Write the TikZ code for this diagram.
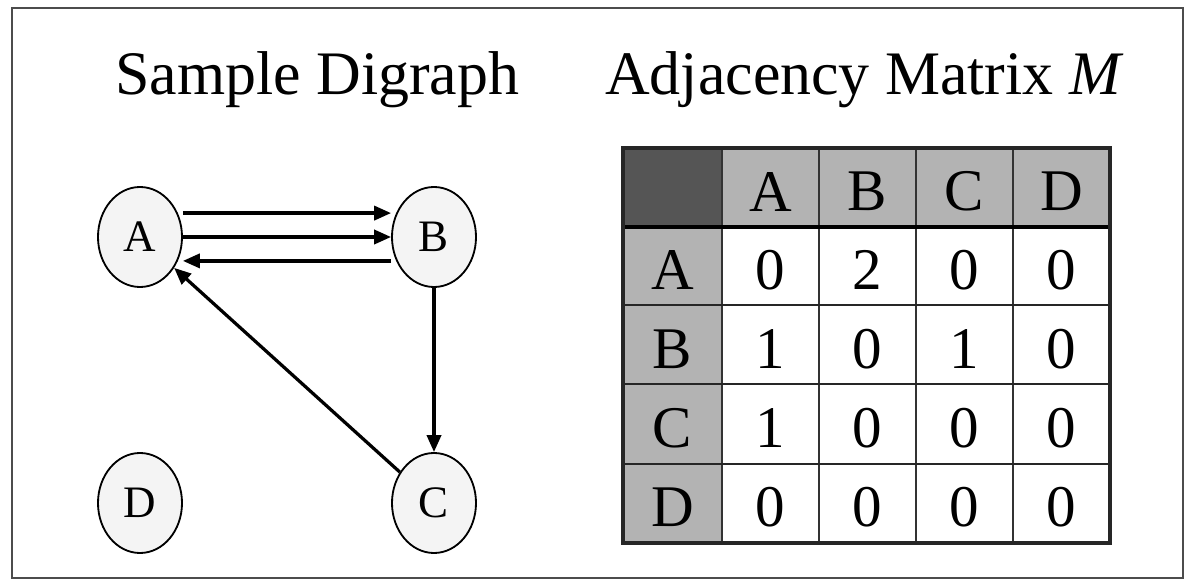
\documentclass[tikz,border=0pt]{standalone}
\usepackage{fontspec}
\setmainfont{Liberation Serif}
\usetikzlibrary{arrows.meta,shapes.geometric}
\definecolor{cellgray}{HTML}{B3B3B3}
\definecolor{cornergray}{HTML}{555555}
\definecolor{nodefill}{HTML}{F4F4F4}
\tikzset{
  vertex/.style={ellipse,draw,line width=1.3pt,fill=nodefill,minimum width=2.1cm,
    minimum height=2.5cm,inner sep=0pt,font=\fontsize{32}{32}\selectfont},
  edge/.style={line width=2.3pt,-{Triangle[length=12pt,width=10pt]}},
  title/.style={font=\fontsize{44}{44}\selectfont,anchor=base west,inner sep=0pt},
  cell/.style={font=\fontsize{42}{42}\selectfont,inner sep=0pt,yshift=-3pt}
}
\begin{document}
\begin{tikzpicture}[x=0.025cm,y=-0.025cm]
  \useasboundingbox (0,0) rectangle (1193,584);
  \draw[line width=0.8pt,black!70] (12,8) rectangle (1183,578);
  % titles
  \node[title] (ttlG) at (115,95) {Sample Digraph};
  \node[title] (ttlM) at (605,95) {Adjacency Matrix \textit{M}};
  % digraph
  \node[vertex] (A) at (140,237) {A};
  \node[vertex] (B) at (434,237) {B};
  \node[vertex] (C) at (434,503) {C};
  \node[vertex] (D) at (140,503) {D};
  \draw[edge] ([yshift=17pt]A.east) -- ([yshift=17pt]B.west);
  \draw[edge] (A.east) -- (B.west);
  \draw[edge] ([yshift=-17pt]B.west) -- ([yshift=-17pt]A.east);
  \draw[edge] (B.south) -- (C.north);
  \draw[edge] (C) -- (A);
  % matrix
  \fill[cornergray] (623,148) rectangle (722,227);
  \fill[cellgray] (722,148) rectangle (1110,227);
  \fill[cellgray] (623,227) rectangle (722,543);
  \foreach \x in {722,819,916,1013}
    \draw[line width=1.2pt,black!80] (\x,148) -- (\x,543);
  \foreach \y in {305,384,464}
    \draw[line width=1.8pt,black!85] (623,\y) -- (1110,\y);
  \draw[line width=2.6pt] (623,227) -- (1110,227);
  \draw[line width=2.2pt,black!85] (623,148) rectangle (1110,543);
  \foreach \n [count=\i from 0] in {A,B,C,D}
    \node[cell] (col\n) at ({770.5+97*\i},187.5) {\n};
  \foreach \n/\vals [count=\j from 0] in {A/{0,2,0,0},B/{1,0,1,0},C/{1,0,0,0},D/{0,0,0,0}} {
    \node[cell] (row\n) at (672.5,{266+79*\j}) {\n};
    \foreach \v [count=\i from 0] in \vals
      \node[cell] (m\n\i) at ({770.5+97*\i},{266+79*\j}) {\v};
  }
\end{tikzpicture}
\end{document}
